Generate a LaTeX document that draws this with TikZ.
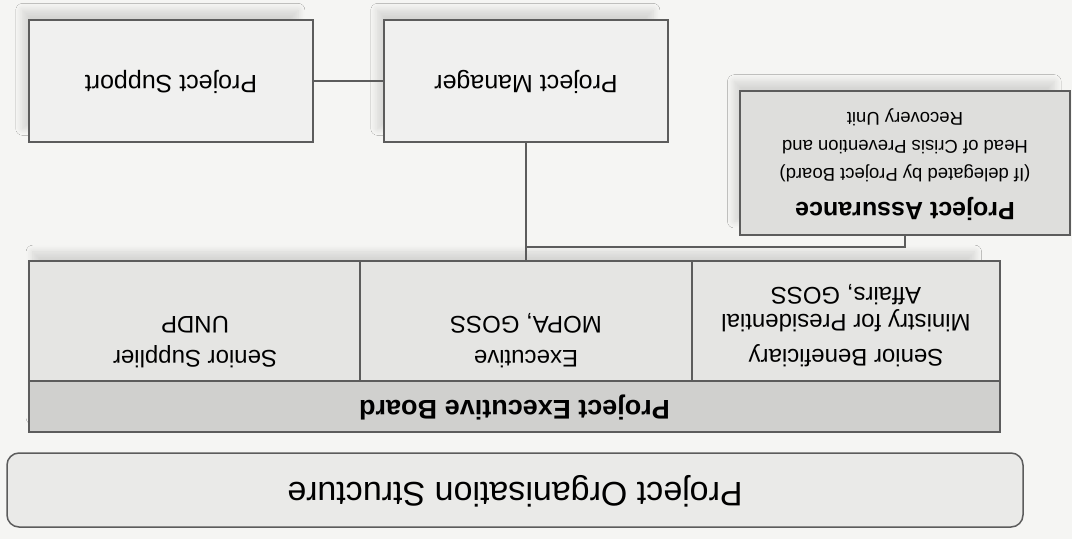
\documentclass[tikz,border=0pt]{standalone}
\usepackage{fontspec}
\setmainfont{Liberation Sans}
\usetikzlibrary{shadows.blur,positioning}

\definecolor{paper}{HTML}{F5F5F3}
\definecolor{plainfill}{HTML}{F0F0EF}
\definecolor{assurefill}{HTML}{DEDEDC}
\definecolor{cellfill}{HTML}{E5E5E3}
\definecolor{headfill}{HTML}{D0D0CE}
\definecolor{titlefill}{HTML}{EAEAE8}
\definecolor{edge}{HTML}{5C5C5C}

% upside-down multi-line text
\newcommand{\flip}[1]{\rotatebox[origin=c]{180}{\begin{tabular}{@{}c@{}}#1\end{tabular}}}

\begin{document}
\begin{tikzpicture}[x=1pt,y=-1pt]
    % Define styles
    \tikzset{
        boxshadow/.style={blur shadow={shadow xshift=-11pt, shadow yshift=12pt, shadow scale=0.97,
            shadow blur radius=7pt, shadow blur steps=10, shadow opacity=13}},
        plainbox/.style={rectangle, draw=edge, line width=1.5pt, fill=plainfill, inner sep=0pt,
            minimum width=284pt, minimum height=122pt, font=\fontsize{25}{30}\selectfont, boxshadow},
        assurebox/.style={rectangle, draw=edge, line width=1.5pt, fill=assurefill, inner sep=0pt,
            minimum width=330pt, minimum height=144pt, font=\fontsize{18.5}{28}\selectfont, boxshadow},
        boardframe/.style={rectangle, draw=edge, line width=1.5pt, fill=cellfill, inner sep=0pt,
            minimum width=971pt, minimum height=171pt, boxshadow},
        cell/.style={rectangle, draw=edge, line width=1.5pt, fill=cellfill, inner sep=0pt, minimum height=120pt},
        boardhead/.style={rectangle, draw=edge, line width=1.5pt, fill=headfill, inner sep=0pt,
            minimum width=971pt, minimum height=51pt, font=\bfseries\fontsize{27}{32}\selectfont},
        celltext/.style={inner sep=0pt, font=\fontsize{24}{34}\selectfont},
        titlebox/.style={rectangle, rounded corners=12pt, draw=edge, line width=1.5pt, fill=titlefill,
            inner sep=0pt, minimum width=1016pt, minimum height=74pt, font=\fontsize{34}{40}\selectfont},
        link/.style={draw=edge, line width=1.5pt}
    }

    % Background and bounding box
    \fill[paper] (0,0) rectangle (1072,539);

    % Nodes
    \node[plainbox] (support) at (171,81) {\flip{Project Support}};
    \node[plainbox] (manager) at (526,81) {\flip{Project Manager}};
    \node[assurebox] (assurance) at (905,163) {\flip{\textbf{\fontsize{25}{30}\selectfont Project Assurance}\\[6pt]
        (If delegated by Project Board)\\ Head of Crisis Prevention and\\ Recovery Unit}};

    \node[boardframe] (board) at (514.5,346.5) {};
    \node[cell, minimum width=331pt] (supplier) at (194.5,321) {};
    \node[cell, minimum width=332pt] (executive) at (526,321) {};
    \node[cell, minimum width=308pt] (beneficiary) at (846,321) {};
    \node[boardhead] (head) at (514.5,406.5) {\flip{Project Executive Board}};

    \node[celltext] (suppliertext) at (195,340) {\flip{Senior Supplier\\ UNDP}};
    \node[celltext] (executivetext) at (526,340) {\flip{Executive\\ MOPA, GOSS}};
    \node[celltext, font=\fontsize{24}{27}\selectfont] (beneficiarytext) at (846,324)
        {\flip{Senior Beneficiary\\[8pt] Ministry for Presidential\\ Affairs, GOSS}};

    \node[titlebox] (title) at (515,490) {\flip{Project Organisation Structure}};

    % Connectors
    \coordinate (branch) at (526,247);
    \draw[link] (support) -- (manager);
    \draw[link] (manager) -- (executive);
    \draw[link] (assurance) |- (branch);
\end{tikzpicture}
\end{document}
